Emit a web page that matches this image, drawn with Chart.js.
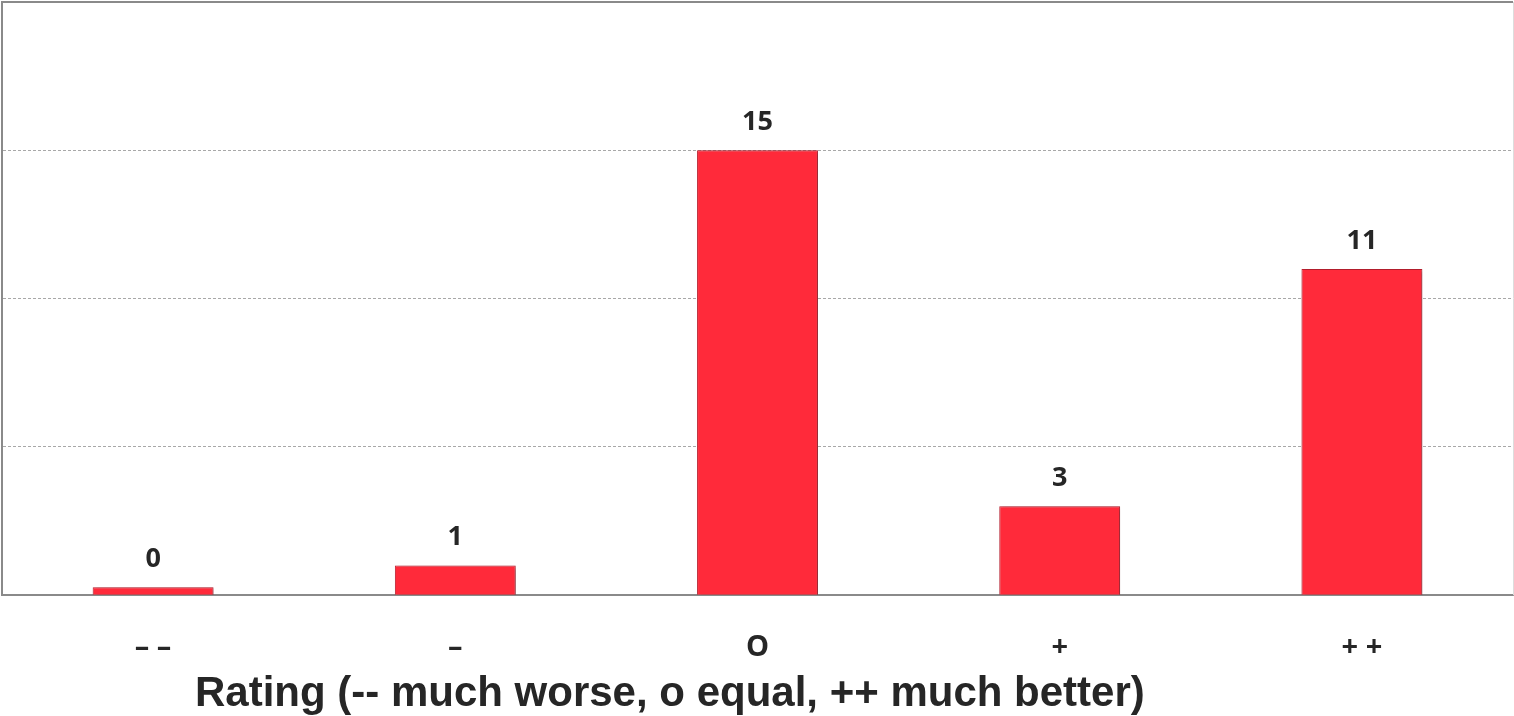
<!DOCTYPE html>
<html>
<head>
<meta charset="utf-8">
<script src="https://cdn.jsdelivr.net/npm/chart.js@4/dist/chart.umd.min.js"></script>
<style>
html,body{margin:0;padding:0;background:#fff;}
#wrap{width:1514px;height:716px;position:relative;}
</style>
</head>
<body>
<div id="wrap"><canvas id="c"></canvas></div>
<script>
const categories = ['– –', '–', 'O', '+', '+ +'];
const counts = [0, 1, 15, 3, 11];
const yTicks = [0, 5, 10, 15, 20];
const xTitle = 'Rating (-- much worse, o equal, ++ much better)';

const barShadow = {
  id: 'barShadow',
  beforeDatasetsDraw(chart) {
    const ctx = chart.ctx;
    ctx.save();
    ctx.shadowColor = 'rgba(0,0,0,0.35)';
    ctx.shadowBlur = 4;
    ctx.shadowOffsetX = 2;
    ctx.shadowOffsetY = 1;
  },
  afterDatasetsDraw(chart) {
    chart.ctx.restore();
  }
};

const valueLabels = {
  id: 'valueLabels',
  afterDatasetsDraw(chart) {
    const ctx = chart.ctx;
    const meta = chart.getDatasetMeta(0);
    const data = chart.data.datasets[0].data;
    ctx.save();
    ctx.font = 'bold 27px "Open Sans", sans-serif';
    ctx.fillStyle = '#262626';
    ctx.textAlign = 'center';
    ctx.textBaseline = 'middle';
    meta.data.forEach((el, i) => {
      ctx.fillText(String(data[i]), el.x, el.y - 28);
    });
    ctx.restore();
  }
};

const frame = {
  id: 'frame',
  afterDraw(chart) {
    const {ctx, chartArea: a} = chart;
    ctx.save();
    ctx.strokeStyle = '#8a8a8a';
    ctx.lineWidth = 2;
    ctx.beginPath();
    ctx.moveTo(a.left - 1, a.top);
    ctx.lineTo(a.right, a.top);
    ctx.stroke();
    ctx.strokeStyle = '#dddddd';
    ctx.lineWidth = 1;
    ctx.beginPath();
    ctx.moveTo(a.right + 0.5, a.top);
    ctx.lineTo(a.right + 0.5, a.bottom);
    ctx.stroke();
    // axis title (offset left as in the original)
    ctx.font = 'bold 42px "Liberation Sans", Arial, sans-serif';
    ctx.fillStyle = '#262626';
    ctx.textAlign = 'center';
    ctx.textBaseline = 'middle';
    ctx.fillText(xTitle, a.left + (a.right - a.left) * 0.442, chart.height - 22);
    ctx.restore();
  }
};

new Chart(document.getElementById('c'), {
  type: 'bar',
  data: {
    labels: categories,
    datasets: [{
      data: counts,
      backgroundColor: '#FF2A3A',
      borderColor: '#C22030',
      borderWidth: 1,
      barPercentage: 0.4,
      categoryPercentage: 1.0,
      minBarLength: 8
    }]
  },
  options: {
    responsive: true,
    maintainAspectRatio: false,
    animation: false,
    layout: { padding: { left: 2, top: 2, right: 1, bottom: 16 } },
    plugins: {
      legend: { display: false },
      tooltip: { enabled: false }
    },
    scales: {
      x: {
        grid: { display: false, drawTicks: false },
        border: { display: true, color: '#8a8a8a', width: 2 },
        ticks: {
          padding: 35,
          color: '#262626',
          font: { family: '"Open Sans", sans-serif', size: 29, weight: 'bold' }
        }
      },
      y: {
        min: yTicks[0],
        max: yTicks[yTicks.length - 1],
        afterBuildTicks(scale) { scale.ticks = yTicks.map(v => ({ value: v })); },
        ticks: { display: false },
        grid: {
          drawTicks: false,
          color: (ctx) => (ctx.tick && (ctx.tick.value === 0 || ctx.tick.value === 20)) ? 'rgba(0,0,0,0)' : '#a8a8a8',
          lineWidth: 1
        },
        border: { display: true, color: '#8a8a8a', width: 2, dash: [3, 2] }
      }
    }
  },
  plugins: [barShadow, valueLabels, frame]
});
</script>
</body>
</html>
